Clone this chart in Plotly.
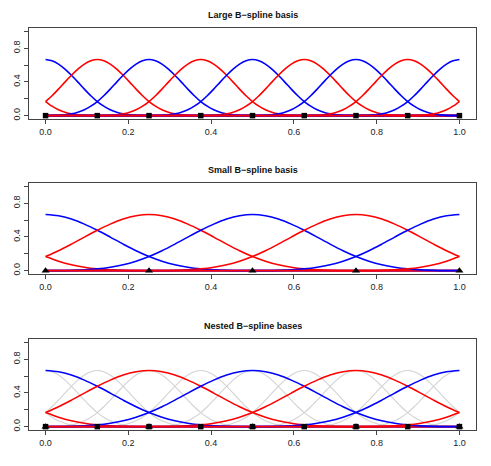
import plotly.graph_objects as go
from plotly.subplots import make_subplots

# knots marked on the baseline
LARGE_KNOTS = [0.0, 0.125, 0.25, 0.375, 0.5, 0.625, 0.75, 0.875, 1.0]
SMALL_KNOTS = [0.0, 0.25, 0.5, 0.75, 1.0]

# centres of each cubic basis function and their colours
LARGE_CENTERS = [-0.125, 0.0, 0.125, 0.25, 0.375, 0.5, 0.625, 0.75, 0.875, 1.0, 1.125]
LARGE_COLORS = ["red", "blue", "red", "blue", "red", "blue", "red", "blue", "red", "blue", "red"]
SMALL_CENTERS = [-0.25, 0.0, 0.25, 0.5, 0.75, 1.0, 1.25]
SMALL_COLORS = ["red", "blue", "red", "blue", "red", "blue", "red"]

# one basis bump: value at 0, 1/8, 2/8 ... 2 knot spacings from centre
PROFILE_HALF = [0.667, 0.652, 0.612, 0.552, 0.479, 0.398, 0.315, 0.236, 0.167,
                0.112, 0.070, 0.041, 0.021, 0.009, 0.003, 0.0003, 0.0]

TITLES = ["Large B−spline basis", "Small B−spline basis", "Nested B−spline bases"]

FONT = "Liberation Sans, Arial, sans-serif"
# page body has an 8px margin, so the figure is laid out 8px in from the window
OFF = 8
W, H = 491 - 2 * OFF, 466 - 2 * OFF
PANELS_PX = [(28, 119), (183, 274), (339, 430)]   # top/bottom of each box in window px
X_PX = (29, 476)


def bump(center, h):
    offs = [i / 8 for i in range(-16, 17)]
    vals = PROFILE_HALF[::-1] + PROFILE_HALF[1:]
    xs, ys = [], []
    for t, v in zip(offs, vals):
        x = round(center + t * h, 6)
        if 0 <= x <= 1:
            xs.append(x)
            ys.append(v)
    if xs[0] > 0:
        xs.insert(0, 0.0)
        ys.insert(0, 0.0)
    if xs[-1] < 1:
        xs.append(1.0)
        ys.append(0.0)
    return xs, ys


def add_basis(fig, row, centers, colors, h, width=1.6):
    for c, col in zip(centers, colors):
        xs, ys = bump(c, h)
        fig.add_trace(go.Scatter(
            x=xs, y=ys, mode="lines",
            line=dict(color=col, width=width, shape="spline", smoothing=0.8),
            hoverinfo="skip",
        ), row=row, col=1)


def add_knots(fig, row, knots, symbol, size):
    fig.add_trace(go.Scatter(
        x=knots, y=[0] * len(knots), mode="markers",
        marker=dict(symbol=symbol, color="black", size=size),
        hoverinfo="skip",
    ), row=row, col=1)


fig = make_subplots(rows=3, cols=1)

# ── Large basis ───────────────────────────────────────────────
add_basis(fig, 1, LARGE_CENTERS, LARGE_COLORS, 0.125)
add_knots(fig, 1, LARGE_KNOTS, "square", 5.5)

# ── Small basis ───────────────────────────────────────────────
add_basis(fig, 2, SMALL_CENTERS, SMALL_COLORS, 0.25)
add_knots(fig, 2, SMALL_KNOTS, "triangle-up", 7)

# ── Nested: large in grey behind small ────────────────────────
add_basis(fig, 3, LARGE_CENTERS, ["#d3d3d3"] * len(LARGE_CENTERS), 0.125, width=1.1)
add_basis(fig, 3, SMALL_CENTERS, SMALL_COLORS, 0.25)
add_knots(fig, 3, LARGE_KNOTS, "square", 5.5)
add_knots(fig, 3, SMALL_KNOTS, "triangle-up", 7)

axis_common = dict(
    showline=True, mirror=True, linecolor="#444", linewidth=1,
    ticks="outside", ticklen=4, tickcolor="#444",
    showgrid=False, zeroline=False, automargin=False,
    tickfont=dict(family=FONT, size=9, color="#222"),
)

xd = [(X_PX[0] - OFF) / W, (X_PX[1] - OFF) / W]
for i, (top, bot) in enumerate(PANELS_PX, start=1):
    fig.update_xaxes(
        domain=xd, range=[-0.04, 1.04],
        tickvals=[0, 0.2, 0.4, 0.6, 0.8, 1.0],
        ticktext=["0.0", "0.2", "0.4", "0.6", "0.8", "1.0"],
        **axis_common, row=i, col=1,
    )
    fig.update_yaxes(
        domain=[1 - (bot - OFF) / H, 1 - (top - OFF) / H], range=[-0.04, 1.04],
        tickvals=[0, 0.2, 0.4, 0.6, 0.8, 1.0],
        ticktext=["0.0", "", "0.4", "", "0.8", ""],
        tickangle=-90,
        **axis_common, row=i, col=1,
    )
    fig.add_annotation(
        text=f"<b>{TITLES[i - 1]}</b>",
        xref="paper", yref="paper",
        x=((X_PX[0] + X_PX[1]) / 2 - OFF) / W, y=1 - (top - 13 - OFF) / H,
        showarrow=False, yanchor="middle",
        font=dict(family=FONT, size=9, color="#111"),
    )

fig.update_layout(
    width=W, height=H,
    margin=dict(l=0, r=0, t=0, b=0),
    paper_bgcolor="white", plot_bgcolor="white",
    showlegend=False,
)

fig.write_html("out.html")
